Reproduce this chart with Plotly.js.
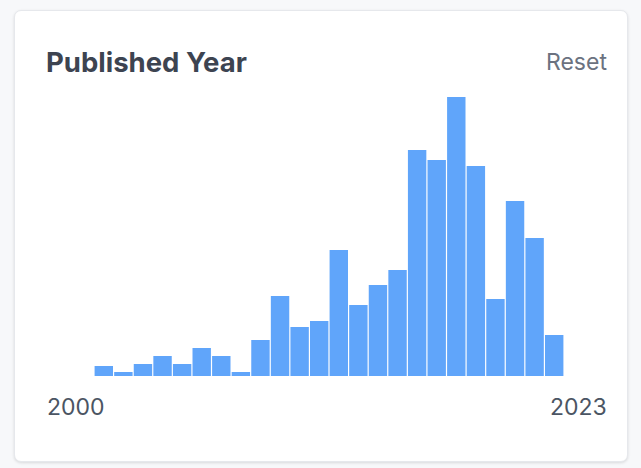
<!DOCTYPE html>
<html>
<head>
<meta charset="utf-8">
<script src="https://cdn.plot.ly/plotly-3.0.1.min.js"></script>
<style>
  html, body { margin: 0; padding: 0; width: 641px; height: 468px; overflow: hidden; background: #f7f8fa; }
  #card { position: absolute; left: 14px; top: 10px; width: 614px; height: 452px; background: #fff;
          border: 1px solid #e6e8ec; border-radius: 7px; box-shadow: 0 1px 3px rgba(0,0,0,0.12); box-sizing: border-box; }
  #chart { position: absolute; left: 0; top: 0; width: 641px; height: 468px; }
</style>
</head>
<body>
<div id="card"></div>
<div id="chart"></div>
<script>
const years = [2000, 2001, 2002, 2003, 2004, 2005, 2006, 2007, 2008, 2009, 2010, 2011,
               2012, 2013, 2014, 2015, 2016, 2017, 2018, 2019, 2020, 2021, 2022, 2023];
const counts = [10, 4, 12, 20, 12, 28, 20, 4, 36, 80, 49, 55,
                126, 71, 91, 106, 226, 216, 279, 210, 77, 175, 138, 41];
const chartTitle = "Published Year";
const resetLabel = "Reset";
const startLabel = "2000";
const endLabel = "2023";

const FONT = "Inter, Roboto, sans-serif";

const trace = {
  type: "bar",
  x: years,
  y: counts,
  marker: { color: "#60a5fa" },
  hoverinfo: "x+y"
};

const layout = {
  width: 641,
  height: 468,
  margin: { l: 94, r: 77, t: 97, b: 92, pad: 0 },
  paper_bgcolor: "rgba(0,0,0,0)",
  plot_bgcolor: "rgba(0,0,0,0)",
  bargap: 0.06,
  showlegend: false,
  title: {
    text: "<b>" + chartTitle + "</b>",
    font: { family: FONT, size: 27.5, color: "#3d4451" },
    xref: "container", yref: "container",
    x: 46 / 641, xanchor: "left",
    y: 1 - 62 / 468, yanchor: "middle"
  },
  xaxis: {
    range: [years[0] - 0.5, years[years.length - 1] + 0.5],
    showticklabels: false, showgrid: false, zeroline: false, showline: false, ticks: ""
  },
  yaxis: {
    range: [0, Math.max(...counts)],
    showticklabels: false, showgrid: false, zeroline: false, showline: false, ticks: ""
  },
  annotations: [
    { text: resetLabel, xref: "paper", yref: "paper",
      x: (609 - 94) / 470, xanchor: "right", y: (376 - 62) / 279, yanchor: "middle",
      showarrow: false, font: { family: FONT, size: 23, color: "#6b7280" } },
    { text: startLabel, xref: "paper", yref: "paper",
      x: (45 - 94) / 470, xanchor: "left", y: (376 - 407) / 279, yanchor: "middle",
      showarrow: false, font: { family: FONT, size: 23, color: "#4b5563" } },
    { text: endLabel, xref: "paper", yref: "paper",
      x: (609 - 94) / 470, xanchor: "right", y: (376 - 407) / 279, yanchor: "middle",
      showarrow: false, font: { family: FONT, size: 23, color: "#4b5563" } }
  ]
};

Plotly.newPlot("chart", [trace], layout, { displayModeBar: false, staticPlot: false });
</script>
</body>
</html>
